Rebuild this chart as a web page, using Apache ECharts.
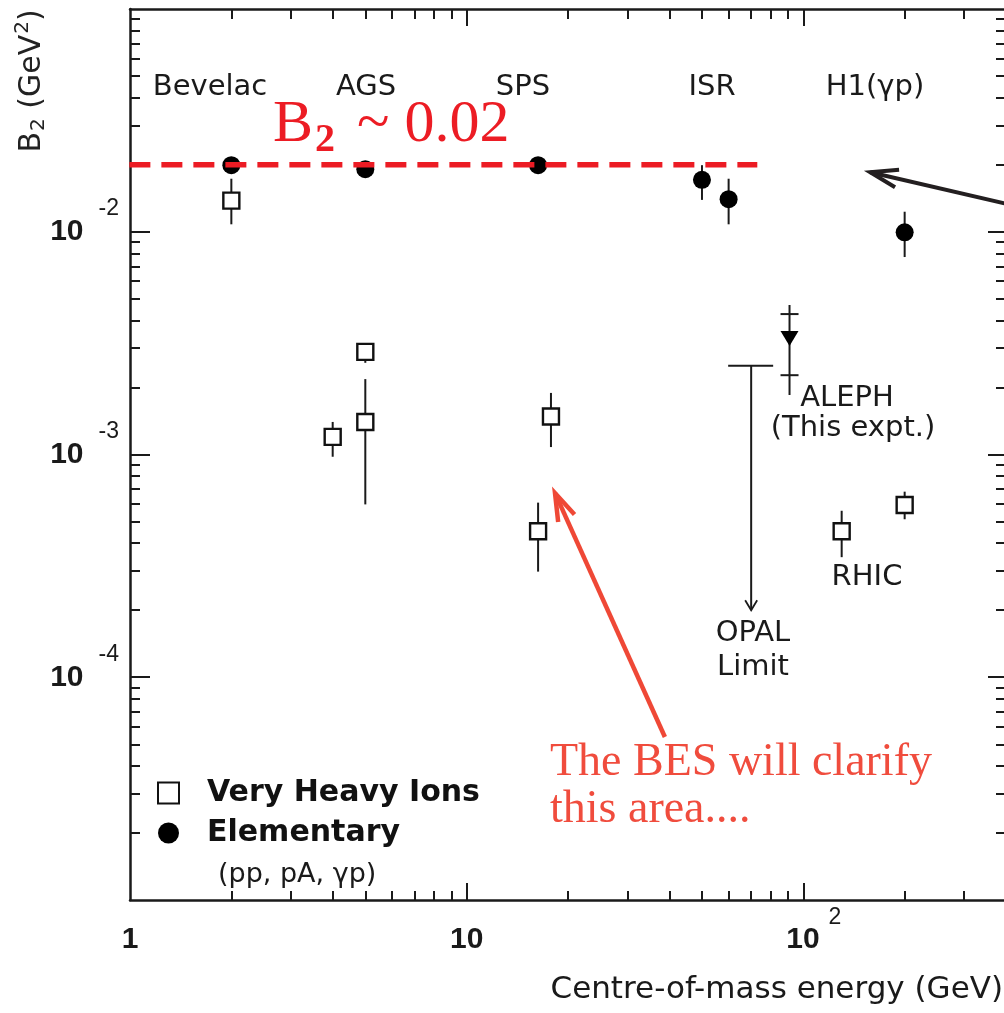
<!DOCTYPE html>
<html>
<head>
<meta charset="utf-8">
<script src="https://cdn.jsdelivr.net/npm/echarts@6/dist/echarts.min.js"></script>
<style>
html, body { margin: 0; padding: 0; background: #fff; }
#chart { width: 1004px; height: 1013px; }
</style>
</head>
<body>
<div id="chart"></div>
<script>
// axes
const xRange = [1, 400];
const yRange = [1e-5, 0.1];
const xMajor = [10, 100];
const xMinor = [2, 3, 4, 5, 6, 7, 8, 9, 20, 30, 40, 50, 60, 70, 80, 90, 200, 300];
const xLabels = [1, 10, 100];
const yMajor = [1e-4, 1e-3, 1e-2];
const yMinor = [
    2e-5, 3e-5, 4e-5, 5e-5, 6e-5, 7e-5, 8e-5, 9e-5,
    2e-4, 3e-4, 4e-4, 5e-4, 6e-4, 7e-4, 8e-4, 9e-4,
    2e-3, 3e-3, 4e-3, 5e-3, 6e-3, 7e-3, 8e-3, 9e-3,
    2e-2, 3e-2, 4e-2, 5e-2, 6e-2, 7e-2, 8e-2, 9e-2
];
const yLabels = [1e-4, 1e-3, 1e-2];

// elementary collisions (pp, pA, gamma p)
const elemE  = [2.0, 5.0, 16.3, 50, 60, 200];
const elemB2 = [0.0199, 0.0191, 0.0199, 0.0171, 0.0140, 0.00994];
const elemLo = [null, null, null, 0.0139, 0.0108, 0.0077];
const elemHi = [null, null, null, 0.0199, 0.0173, 0.0123];

// very heavy ions
const ionE  = [2.0, 4.0, 5.0, 5.0, 17.8, 16.3, 130, 200];
const ionB2 = [0.0138, 0.00120, 0.00289, 0.00140, 0.00148, 0.000452, 0.000452, 0.000593];
const ionLo = [0.0108, 0.000977, 0.00258, 0.000597, 0.00108, 0.000298, 0.000346, 0.000512];
const ionHi = [0.0173, 0.00140, 0.0031, 0.00218, 0.00189, 0.000608, 0.000559, 0.000681];

// ALEPH: value, total error range, statistical error range
const alephE = [91];
const alephB2 = [0.00332];
const alephTot = [[0.00185, 0.00469]];
const alephStat = [[0.00227, 0.00427]];

// OPAL upper limit
const opalE = [70];
const opalLimit = [0.0025];
const opalArrowEnd = [0.0002];

// annotation: B2 ~ 0.02 line, arrows
const b2Level = 0.02;
const b2LineE = [0.8, 73];
const redArrow = [[38.8, 5.39e-5], [18.3, 6.71e-4]];
const blackArrow = [[423, 0.0131], [158, 0.0185]];

const ink = '#1a1a1a';
const tickStyle = { color: ink, width: 2 };

function logAxis(position, range, ticks, len, showLine, label) {
    return {
        type: 'log',
        logBase: 10,
        position: position,
        min: range[0],
        max: range[1],
        axisLine: { show: showLine, lineStyle: { color: ink, width: 2.5 } },
        axisTick: { show: true, inside: true, length: len, customValues: ticks, lineStyle: tickStyle },
        minorTick: { show: false },
        splitLine: { show: false },
        axisLabel: label || { show: false }
    };
}

const xLabel = {
    show: true,
    customValues: xLabels,
    margin: 40,
    verticalAlign: 'middle',
    formatter: v => {
        const e = Math.round(Math.log10(v));
        if (e === 0) return '{b|1}';
        if (e === 1) return '{b|10}';
        return '{c|10}{e|' + e + '}';
    },
    rich: {
        b: { fontFamily: 'Liberation Sans', fontWeight: 'bold', fontSize: 30, color: ink },
        c: { fontFamily: 'Liberation Sans', fontWeight: 'bold', fontSize: 30, color: ink, padding: [0, 0, 0, 21] },
        e: { fontFamily: 'Liberation Sans', fontSize: 23, color: ink, padding: [0, 0, 44, 9] }
    }
};

const yLabel = {
    show: true,
    customValues: yLabels,
    margin: 11,
    formatter: v => '{b|10}{e|' + Math.round(Math.log10(v)) + '}',
    rich: {
        b: { fontFamily: 'Liberation Sans', fontWeight: 'bold', fontSize: 30, color: ink },
        e: { fontFamily: 'Liberation Sans', fontSize: 23, color: ink, padding: [0, 0, 46, 15] }
    }
};

function errorBars(params, api) {
    const hi = api.coord([api.value(0), api.value(2)]);
    const lo = api.coord([api.value(0), api.value(1)]);
    return {
        type: 'line',
        shape: { x1: hi[0], y1: hi[1], x2: lo[0], y2: lo[1] },
        style: { stroke: ink, lineWidth: 2 }
    };
}

const ionBars = ionE.map((x, i) => [x, ionLo[i], ionHi[i]]);
const elemBars = elemE.map((x, i) => [x, elemLo[i], elemHi[i]]).filter(d => d[1] !== null);

const option = {
    animation: false,
    backgroundColor: '#fff',
    grid: { left: 130, top: 9, width: 876, height: 891, containLabel: false, outerBoundsMode: 'none' },
    xAxis: [
        logAxis('bottom', xRange, xMajor, 17, true, xLabel),
        logAxis('bottom', xRange, xMinor, 9, false),
        logAxis('top', xRange, xMajor, 17, true),
        logAxis('top', xRange, xMinor, 10, false)
    ],
    yAxis: [
        logAxis('left', yRange, yMajor, 20, true, yLabel),
        logAxis('left', yRange, yMinor, 10, false),
        logAxis('right', yRange, yMajor, 18, true),
        logAxis('right', yRange, yMinor, 10, false)
    ],
    legend: {
        orient: 'vertical',
        left: 157,
        top: 778,
        padding: 0,
        itemGap: 10,
        itemWidth: 21,
        itemHeight: 21,
        selectedMode: false,
        data: ['Very Heavy Ions', 'Elementary'],
        textStyle: {
            fontFamily: 'DejaVu Sans', fontWeight: 'bold', fontSize: 30, color: '#111',
            padding: [0, 0, 0, 23]
        }
    },
    series: [
        {
            type: 'custom',
            name: 'ionErr',
            renderItem: errorBars,
            encode: { x: 0, y: [1, 2] },
            data: ionBars,
            z: 2
        },
        {
            type: 'custom',
            name: 'elemErr',
            renderItem: errorBars,
            encode: { x: 0, y: [1, 2] },
            data: elemBars,
            z: 2
        },
        {
            type: 'line',
            name: 'b2',
            data: b2LineE.map(x => [x, b2Level]),
            symbol: 'none',
            clip: false,
            lineStyle: { color: '#ec1c24', width: 5.5, type: [21, 11] },
            z: 4
        },
        {
            type: 'scatter',
            name: 'Very Heavy Ions',
            data: ionE.map((x, i) => [x, ionB2[i]]),
            symbol: 'rect',
            symbolSize: 16,
            itemStyle: { color: '#fff', borderColor: '#111', borderWidth: 2.4, opacity: 1 },
            z: 3
        },
        {
            type: 'scatter',
            name: 'Elementary',
            data: elemE.map((x, i) => [x, elemB2[i]]),
            symbol: 'circle',
            symbolSize: 18,
            itemStyle: { color: '#000', opacity: 1 },
            z: 3
        },
        {
            type: 'custom',
            name: 'ALEPH',
            encode: { x: 0, y: [1, 2, 3] },
            data: alephE.map((x, i) => [x, alephTot[i][0], alephTot[i][1], alephStat[i][0], alephStat[i][1]]),
            renderItem: (params, api) => {
                const x = api.value(0);
                const a = api.coord([x, api.value(1)]);
                const b = api.coord([x, api.value(2)]);
                const s1 = api.coord([x, api.value(3)]);
                const s2 = api.coord([x, api.value(4)]);
                const st = { stroke: ink, lineWidth: 2 };
                return {
                    type: 'group',
                    children: [
                        { type: 'line', shape: { x1: a[0], y1: a[1], x2: b[0], y2: b[1] }, style: st },
                        { type: 'line', shape: { x1: s1[0] - 9, y1: s1[1], x2: s1[0] + 9, y2: s1[1] }, style: st },
                        { type: 'line', shape: { x1: s2[0] - 9, y1: s2[1], x2: s2[0] + 9, y2: s2[1] }, style: st }
                    ]
                };
            },
            z: 2
        },
        {
            type: 'scatter',
            name: 'ALEPH point',
            data: alephE.map((x, i) => [x, alephB2[i]]),
            symbol: 'triangle',
            symbolRotate: 180,
            symbolSize: [18, 15],
            itemStyle: { color: '#000', opacity: 1 },
            z: 3
        },
        {
            type: 'custom',
            name: 'OPAL',
            encode: { x: 0, y: [1, 2] },
            data: opalE.map((x, i) => [x, opalLimit[i], opalArrowEnd[i]]),
            renderItem: (params, api) => {
                const x = api.value(0);
                const top = api.coord([x, api.value(1)]);
                const bot = api.coord([x, api.value(2)]);
                const st = { stroke: ink, lineWidth: 2 };
                return {
                    type: 'group',
                    children: [
                        { type: 'line', shape: { x1: top[0] - 23, y1: top[1], x2: top[0] + 22, y2: top[1] }, style: st },
                        { type: 'line', shape: { x1: top[0], y1: top[1], x2: bot[0], y2: bot[1] }, style: st },
                        { type: 'polyline', shape: { points: [[bot[0] - 6, bot[1] - 10], [bot[0], bot[1]], [bot[0] + 6, bot[1] - 10]] }, style: { stroke: ink, lineWidth: 1.8, fill: null } }
                    ]
                };
            },
            z: 2
        }
    ]
};

const chart = echarts.init(document.getElementById('chart'));
chart.setOption(option);

const px = v => chart.convertToPixel({ seriesIndex: 0 }, v);

function arrow(pair, color, width) {
    const a = px(pair[0]);
    const b = px(pair[1]);
    const ang = Math.atan2(a[1] - b[1], a[0] - b[0]);
    const len = 29;
    const spread = 18 * Math.PI / 180;
    const w1 = [b[0] + len * Math.cos(ang + spread), b[1] + len * Math.sin(ang + spread)];
    const w2 = [b[0] + len * Math.cos(ang - spread), b[1] + len * Math.sin(ang - spread)];
    return [
        { type: 'line', z: 50, shape: { x1: a[0], y1: a[1], x2: b[0], y2: b[1] }, style: { stroke: color, lineWidth: width } },
        { type: 'polyline', z: 50, shape: { points: [w1, b, w2] }, style: { stroke: color, lineWidth: width, fill: null, lineJoin: 'miter' } }
    ];
}

function label(text, x, y, font, color, align) {
    return {
        type: 'text', x: x, y: y, z: 60,
        style: { text: text, font: font, fill: color || ink, align: align || 'center', verticalAlign: 'middle' }
    };
}

const sans = '29px "DejaVu Sans"';
const serifRed = '#f04c3d';

chart.setOption({
    graphic: [
        ...arrow(redArrow, '#ef4836', 4.5),
        ...arrow(blackArrow, '#231f20', 4),
        label('Bevelac', 210, 87, sans),
        label('AGS', 366, 87, sans),
        label('SPS', 523, 87, sans),
        label('ISR', 712, 87, sans),
        label('H1(\u03b3p)', 875, 87, sans),
        label('ALEPH', 847, 398, sans),
        label('(This expt.)', 853, 428, sans),
        label('RHIC', 867, 577, sans),
        label('OPAL', 753, 633, sans),
        label('Limit', 753, 667, sans),
        label('(pp, pA, \u03b3p)', 218, 875, '27px "DejaVu Sans"', ink, 'left'),
        label('Centre-of-mass energy (GeV)', 1003, 990, '31px "DejaVu Sans"', ink, 'right'),
        label('B', 273, 125, '60px "Liberation Serif"', '#ec1c24', 'left'),
        label('2', 315, 141, 'bold 40px "Liberation Serif"', '#ec1c24', 'left'),
        label('~ 0.02', 357, 125, '60px "Liberation Serif"', '#ec1c24', 'left'),
        label('The BES will clarify', 550, 763, '46px "Liberation Serif"', serifRed, 'left'),
        label('this area....', 550, 810, '46px "Liberation Serif"', serifRed, 'left'),
        {
            type: 'text', x: 32, y: 81, rotation: Math.PI / 2, z: 60,
            style: {
                text: '{n|B}{sub|2}{n| (GeV}{sup|2}{n|)}',
                align: 'center', verticalAlign: 'middle',
                rich: {
                    n: { fontFamily: 'DejaVu Sans', fontSize: 30, fill: '#222' },
                    sub: { fontFamily: 'DejaVu Sans', fontSize: 20, fill: '#222', padding: [13, 0, 0, 1] },
                    sup: { fontFamily: 'DejaVu Sans', fontSize: 20, fill: '#222', padding: [0, 0, 18, 1] }
                }
            }
        }
    ]
});

window.addEventListener('resize', () => {
    chart.resize();
});
</script>
</body>
</html>
